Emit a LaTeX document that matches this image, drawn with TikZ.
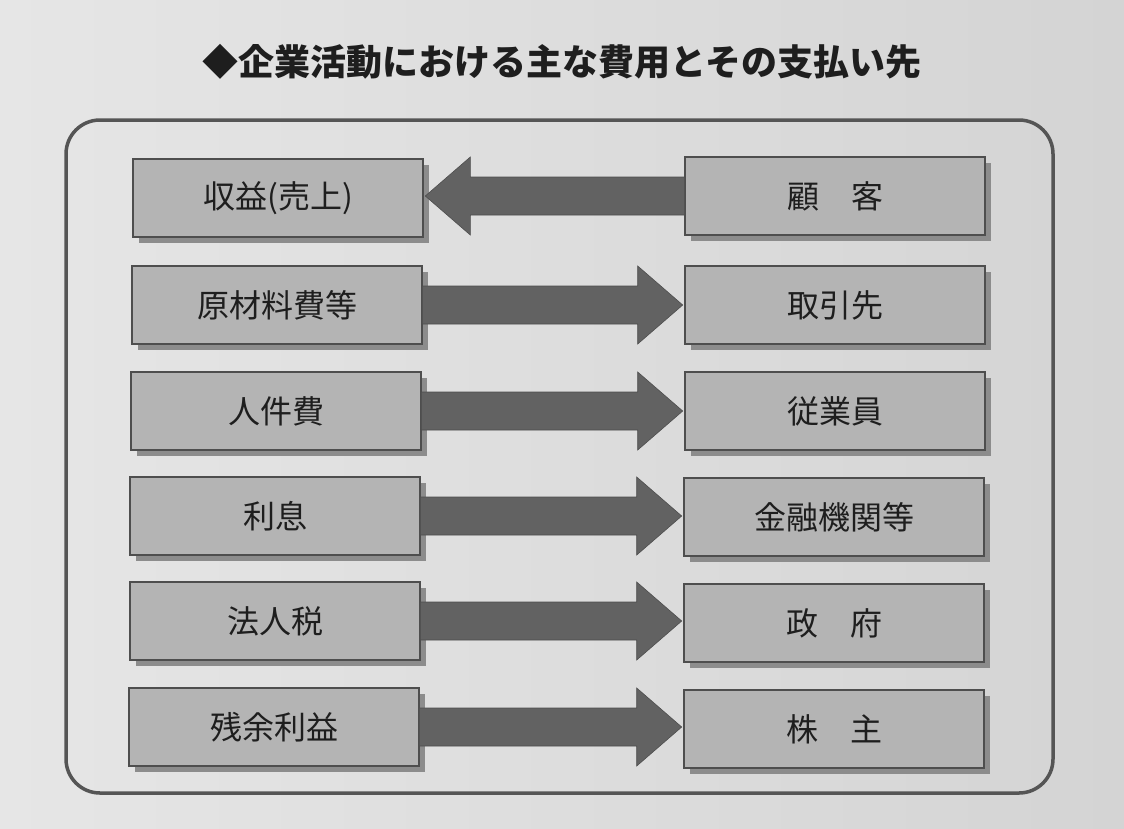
\documentclass[tikz,border=0pt]{standalone}
\usepackage{fontspec}
\newfontfamily\jp{Noto Sans CJK JP}
\usetikzlibrary{shadows,calc}
\definecolor{pagebgL}{HTML}{E6E6E6}
\definecolor{pagebgR}{HTML}{D4D4D4}
\definecolor{boxfill}{HTML}{B4B4B4}
\definecolor{boxline}{HTML}{4E4E4E}
\definecolor{shadowc}{HTML}{8C8C8C}
\definecolor{arrowc}{HTML}{626262}
\definecolor{framec}{HTML}{555555}
\definecolor{txt}{HTML}{1E1E1E}
\tikzset{
  itembox/.style={draw=boxline, line width=2.6pt, fill=boxfill,
    minimum height=78pt, inner sep=0pt, text=txt, font=\jp\fontsize{32}{32}\selectfont,
    drop shadow={shadow xshift=6pt, shadow yshift=-6pt, fill=shadowc, opacity=1}},
  leftbox/.style={itembox, minimum width=290pt},
  rightbox/.style={itembox, minimum width=300pt},
  bigarrow/.style={fill=arrowc, draw=arrowc!80!black, line width=0.6pt, line join=miter}
}
\begin{document}
\begin{tikzpicture}[x=1pt,y=-1pt]
\shade[left color=pagebgL, right color=pagebgR] (0,0) rectangle (1124,828);
\useasboundingbox (0,0) rectangle (1124,828);
\node[text=txt, font=\jp\bfseries\fontsize{36}{36}\selectfont] (title) at (562,62) {◆企業活動における主な費用とその支払い先};
\draw[framec, line width=3.5pt, rounded corners=34pt] (66,120) rectangle (1053,793);
% left column
\node[leftbox] (L1) at (278,198) {収益(売上)};
\node[leftbox] (L2) at (277,305) {原材料費等};
\node[leftbox] (L3) at (276,411) {人件費};
\node[leftbox] (L4) at (275,516) {利息};
\node[leftbox] (L5) at (275,621) {法人税};
\node[leftbox] (L6) at (274,727) {残余利益};
% right column
\node[rightbox] (R1) at (835,196) {顧\hspace{1em}客};
\node[rightbox] (R2) at (835,305) {取引先};
\node[rightbox] (R3) at (835,411) {従業員};
\node[rightbox] (R4) at (834,517) {金融機関等};
\node[rightbox] (R5) at (834,623) {政\hspace{1em}府};
\node[rightbox] (R6) at (834,729) {株\hspace{1em}主};
% arrow right to left (row 1)
\path let \p1=(R1.west), \p2=(L1.east) in
  [bigarrow] (\x1+1,\y1+19) -- (\x2+46,\y1+19) -- (\x2+46,\y1+39) -- (\x2+1,\y1) -- (\x2+46,\y1-39) -- (\x2+46,\y1-19) -- (\x1+1,\y1-19) -- cycle;
% arrows left to right
\foreach \i in {2,...,6}{
  \path let \p1=(L\i.east), \p2=(R\i.west) in
    [bigarrow] (\x1-1,\y1+19) -- (\x2-46,\y1+19) -- (\x2-46,\y1+39) -- (\x2-1,\y1) -- (\x2-46,\y1-39) -- (\x2-46,\y1-19) -- (\x1-1,\y1-19) -- cycle;
}
\end{tikzpicture}
\end{document}
